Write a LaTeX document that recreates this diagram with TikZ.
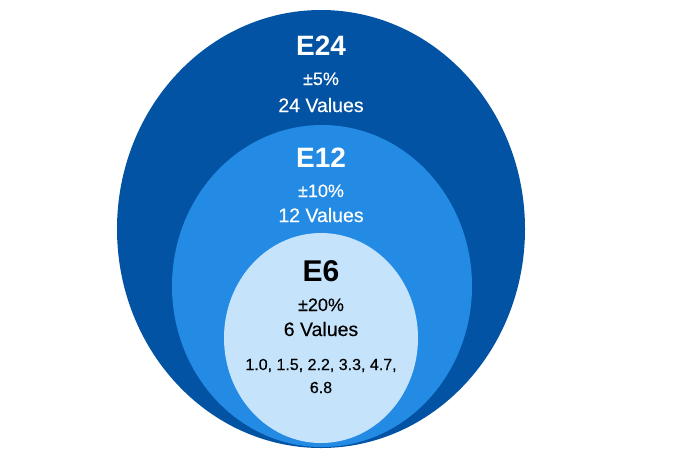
\documentclass[tikz,border=0pt]{standalone}
\usepackage{fontspec}
\setmainfont{Liberation Sans}
\newfontfamily\medfont[FakeBold=0.35]{Liberation Sans}
\usetikzlibrary{shapes.geometric}
\definecolor{outerblue}{RGB}{3,83,164}
\definecolor{midblue}{RGB}{36,139,228}
\definecolor{innerblue}{RGB}{197,228,252}
\tikzset{
  ring/.style={ellipse, inner sep=0pt, draw=none},
  series/.style={anchor=base, font=\fontsize{28}{30}\selectfont\bfseries},
  tol/.style={anchor=base, font=\medfont\fontsize{18}{20}\selectfont},
  count/.style={anchor=base, font=\medfont\fontsize{19.5}{21}\selectfont},
  vals/.style={anchor=base, font=\medfont\fontsize{16}{18}\selectfont},
}
\begin{document}
\begin{tikzpicture}[x=1pt,y=-1pt]
  \useasboundingbox (0,0) rectangle (700,467);
  % the three series, nested
  \node[ring, fill=outerblue, minimum width=408, minimum height=438] (ringE24) at (321,229) {};
  \node[ring, fill=midblue, minimum width=300, minimum height=322] (ringE12) at (322,286) {};
  \node[ring, fill=innerblue, minimum width=194, minimum height=210] (ringE6) at (321,338) {};
  % E24
  \node[series, text=white] (nameE24) at (321,55) {E24};
  \node[tol, text=white] (tolE24) at (321,85) {±5\%};
  \node[count, text=white] (cntE24) at (321,112) {24 Values};
  % E12
  \node[series, text=white] (nameE12) at (321,167) {E12};
  \node[tol, text=white] (tolE12) at (321,197) {±10\%};
  \node[count, text=white] (cntE12) at (321,222) {12 Values};
  % E6
  \node[series, text=black, font=\fontsize{30}{32}\selectfont\bfseries] (nameE6) at (321,281) {E6};
  \node[tol, text=black] (tolE6) at (321,311) {±20\%};
  \node[count, text=black] (cntE6) at (321,336) {6 Values};
  \node[vals, text=black] (valsA) at (321,370) {1.0, 1.5, 2.2, 3.3, 4.7,};
  \node[vals, text=black] (valsB) at (321,393) {6.8};
\end{tikzpicture}
\end{document}
